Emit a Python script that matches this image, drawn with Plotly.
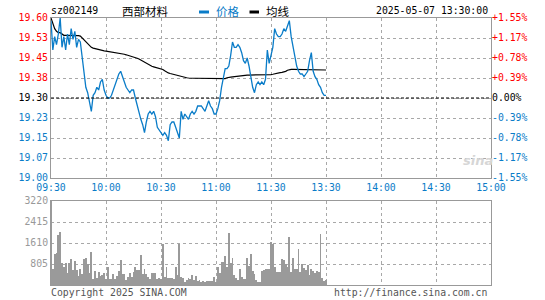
import plotly.graph_objects as go

# ---------------- data ----------------
symbol = "sz002149"
name = "西部材料"
stamp = "2025-05-07 13:30:00"
prev_close = 19.30

time_ticks = [0, 30, 60, 90, 120, 150, 180, 210, 240]
time_labels = ["09:30", "10:00", "10:30", "11:00", "11:30", "13:30", "14:00", "14:30", "15:00"]

price_ticks = [19.00, 19.075, 19.15, 19.225, 19.30, 19.375, 19.45, 19.525, 19.60]
price_labels = ["19.00", "19.07", "19.15", "19.23", "19.30", "19.38", "19.45", "19.53", "19.60"]
pct_labels = ["-1.55%", "-1.17%", "-0.78%", "-0.39%", "0.00%", "+0.39%", "+0.78%", "+1.17%", "+1.55%"]

vol_ticks = [805, 1610, 2415, 3220]
vol_labels = ["805", "1610", "2415", "3220"]

price = [
    19.59, 19.48, 19.53, 19.50, 19.54, 19.60, 19.49, 19.53, 19.48, 19.54,
    19.50, 19.56, 19.52, 19.55, 19.49, 19.52, 19.51, 19.45, 19.39, 19.34,
    19.32, 19.29, 19.25, 19.31, 19.32, 19.34, 19.33, 19.36, 19.37, 19.33,
    19.31, 19.30, 19.30, 19.31, 19.33, 19.35, 19.37, 19.39, 19.40, 19.38,
    19.36, 19.34, 19.33, 19.32, 19.33, 19.33, 19.30, 19.27, 19.25, 19.22,
    19.20, 19.17, 19.21, 19.24, 19.25, 19.24, 19.25, 19.23, 19.19, 19.18,
    19.17, 19.16, 19.17, 19.16, 19.14, 19.20, 19.21, 19.21, 19.19, 19.17,
    19.15, 19.25, 19.22, 19.24, 19.23, 19.22, 19.24, 19.25, 19.24, 19.25,
    19.27, 19.27, 19.27, 19.26, 19.25, 19.27, 19.29, 19.27, 19.26, 19.24,
    19.24, 19.26, 19.29, 19.34, 19.37, 19.41, 19.41, 19.42, 19.46, 19.51,
    19.49, 19.49, 19.50, 19.49, 19.47, 19.44, 19.43, 19.45, 19.42, 19.38,
    19.34, 19.32, 19.35, 19.36, 19.35, 19.36, 19.35, 19.37, 19.48, 19.43,
    19.46, 19.49, 19.56, 19.54, 19.53, 19.53, 19.54, 19.56, 19.55, 19.57,
    19.59, 19.53, 19.49, 19.46, 19.42, 19.40, 19.39, 19.39, 19.38, 19.39,
    19.40, 19.44, 19.47, 19.40, 19.38, 19.37, 19.35, 19.34, 19.32, 19.31,
    19.31,
]

avg_price = [
    19.600, 19.575, 19.560, 19.550, 19.545, 19.545, 19.540, 19.535, 19.535, 19.535,
    19.535, 19.535, 19.535, 19.535, 19.535, 19.534, 19.532, 19.525, 19.518, 19.510,
    19.503, 19.495, 19.490, 19.487, 19.485, 19.484, 19.482, 19.480, 19.479, 19.477,
    19.476, 19.475, 19.473, 19.472, 19.471, 19.470, 19.469, 19.468, 19.467, 19.466,
    19.464, 19.462, 19.460, 19.459, 19.457, 19.454, 19.451, 19.449, 19.446, 19.442,
    19.438, 19.433, 19.428, 19.424, 19.422, 19.419, 19.417, 19.415, 19.414, 19.413,
    19.410, 19.407, 19.402, 19.397, 19.394, 19.392, 19.390, 19.388, 19.386, 19.384,
    19.383, 19.381, 19.379, 19.378, 19.376, 19.375, 19.374, 19.374, 19.374, 19.374,
    19.374, 19.374, 19.374, 19.374, 19.374, 19.374, 19.374, 19.374, 19.374, 19.374,
    19.374, 19.374, 19.374, 19.373, 19.372, 19.373, 19.376, 19.378, 19.378, 19.379,
    19.380, 19.382, 19.383, 19.384, 19.385, 19.386, 19.386, 19.386, 19.386, 19.386,
    19.386, 19.386, 19.386, 19.386, 19.386, 19.386, 19.386, 19.386, 19.386, 19.387,
    19.388, 19.389, 19.391, 19.393, 19.394, 19.395, 19.396, 19.397, 19.400, 19.404,
    19.407, 19.407, 19.407, 19.407, 19.407, 19.407, 19.407, 19.407, 19.407, 19.407,
    19.407, 19.407, 19.407, 19.407, 19.407, 19.407, 19.406, 19.405, 19.405, 19.405,
    19.405,
]

volume = [
    3220, 600, 1176, 1214, 1904, 2032, 856, 703, 856, 447,
    856, 984, 575, 920, 575, 345, 626, 409, 1010, 1048,
    792, 447, 1265, 243, 537, 281, 498, 345, 370, 473,
    217, 703, 217, 243, 409, 217, 345, 537, 958, 409,
    409, 192, 320, 473, 320, 498, 677, 575, 575, 1137,
    409, 600, 409, 307, 217, 447, 473, 473, 217, 256,
    217, 1559, 320, 703, 256, 281, 281, 217, 703, 370,
    1559, 320, 256, 128, 192, 281, 217, 370, 192, 345,
    153, 179, 128, 153, 128, 166, 166, 153, 153, 320,
    128, 677, 473, 895, 895, 1112, 677, 2006, 856, 1048,
    383, 256, 192, 626, 320, 217, 243, 1048, 728, 1176,
    537, 409, 192, 128, 128, 537, 575, 600, 600, 626,
    1661, 1559, 677, 511, 498, 498, 1010, 958, 792, 703,
    1853, 498, 1022, 600, 626, 1367, 498, 792, 665, 575,
    754, 383, 626, 537, 473, 537, 498, 1943, 256, 153,
    192,
]

minutes = list(range(len(price)))

# ---------------- style ----------------
W, H = 545, 300
BLUE = "#0a7cc8"
RED = "#ff0000"
GRID = "#a8a8a8"
BORDER = "#999999"
MONO = "DejaVu Sans Mono"
CJK = "Noto Sans CJK SC"
FS = 9.8


def px(x):
    return x / W


def py(y):
    return 1 - y / H


def colored(labels):
    out = []
    for i, t in enumerate(labels):
        c = BLUE if i < 4 else ("#000000" if i == 4 else RED)
        out.append(f'<span style="color:{c}">{t}</span>')
    return out


xdom = [px(51), px(491)]

fig = go.Figure()
fig.add_trace(go.Bar(x=minutes, y=volume, xaxis="x2", yaxis="y3",
                     marker=dict(color="#9a9a9a", line=dict(width=0)),
                     width=0.5, hoverinfo="skip"))
fig.add_trace(go.Scatter(x=minutes, y=avg_price, mode="lines",
                         line=dict(color="#000000", width=1.2), hoverinfo="skip"))
fig.add_trace(go.Scatter(x=minutes, y=price, mode="lines",
                         line=dict(color=BLUE, width=1.3), hoverinfo="skip"))
fig.add_trace(go.Scatter(x=minutes, y=price, yaxis="y2", mode="lines",
                         line=dict(width=0), opacity=0, hoverinfo="skip"))

common_x = dict(domain=xdom, range=[0, 240], tickvals=time_ticks, showgrid=True,
                gridcolor=GRID, griddash="dot", gridwidth=1, showline=True, mirror=True,
                linecolor=BORDER, linewidth=1, zeroline=False, ticks="", fixedrange=True,
                automargin=False)

fig.update_layout(
    width=W, height=H, autosize=False,
    margin=dict(l=0, r=0, t=0, b=0, pad=0),
    paper_bgcolor="#ffffff", plot_bgcolor="#ffffff",
    showlegend=False, bargap=0,
    font=dict(family=MONO, size=FS, color="#000000"),
    xaxis=dict(**common_x, anchor="y", ticktext=time_labels,
               tickfont=dict(family=MONO, size=FS, color=BLUE)),
    yaxis=dict(domain=[py(178), py(18)], range=[19.0, 19.6], tickvals=price_ticks,
               ticktext=colored(price_labels), showgrid=True, gridcolor=GRID,
               griddash="dot", showline=True, mirror=True, linecolor=BORDER,
               zeroline=False, ticks="", tickfont=dict(family=MONO, size=FS),
               automargin=False, fixedrange=True),
    yaxis2=dict(overlaying="y", side="right", anchor="x", range=[19.0, 19.6],
                tickvals=price_ticks, ticktext=colored(pct_labels), showgrid=False,
                zeroline=False, ticks="", tickfont=dict(family=MONO, size=FS),
                automargin=False, fixedrange=True),
    xaxis2=dict(**common_x, anchor="y3", showticklabels=False),
    yaxis3=dict(domain=[py(285), py(201)], range=[0, 3220], tickvals=vol_ticks,
                ticktext=vol_labels, showgrid=True, gridcolor=GRID, griddash="dot",
                showline=True, mirror=True, linecolor=BORDER, zeroline=False,
                ticks="", tickfont=dict(family=MONO, size=FS, color="#999999"),
                automargin=False, fixedrange=True),
)

# previous close reference line
fig.add_shape(type="line", xref="x", yref="y", x0=0, x1=240,
              y0=prev_close, y1=prev_close, layer="above",
              line=dict(color="#000000", width=1, dash="3px,2px"))

# header
fig.add_annotation(x=px(49), y=py(11), xref="paper", yref="paper", text=symbol,
                   showarrow=False, xanchor="left", yanchor="middle",
                   font=dict(family=MONO, size=FS, color="#000000"))
fig.add_annotation(x=px(120), y=py(11), xref="paper", yref="paper", text=name,
                   showarrow=False, xanchor="left", yanchor="middle",
                   font=dict(family=CJK, size=11.5, color="#000000"))
fig.add_shape(type="rect", xref="paper", yref="paper", x0=px(199), x1=px(209),
              y0=py(13.5), y1=py(10.5), fillcolor=BLUE, line=dict(width=0))
fig.add_annotation(x=px(214), y=py(11), xref="paper", yref="paper", text="价格",
                   showarrow=False, xanchor="left", yanchor="middle",
                   font=dict(family=CJK, size=11.5, color=BLUE))
fig.add_shape(type="rect", xref="paper", yref="paper", x0=px(249.5), x1=px(259),
              y0=py(13.5), y1=py(10.5), fillcolor="#000000", line=dict(width=0))
fig.add_annotation(x=px(264), y=py(11), xref="paper", yref="paper", text="均线",
                   showarrow=False, xanchor="left", yanchor="middle",
                   font=dict(family=CJK, size=11.5, color="#000000"))
fig.add_annotation(x=px(490), y=py(11), xref="paper", yref="paper", text=stamp,
                   showarrow=False, xanchor="right", yanchor="middle",
                   font=dict(family=MONO, size=FS, color="#000000"))

# watermark
fig.add_annotation(x=px(478), y=py(160), xref="paper", yref="paper", text="<b><i>sina</i></b>",
                   showarrow=False, xanchor="center", yanchor="middle",
                   font=dict(family="DejaVu Sans", size=13, color="#d6d6d6"))

# footer
fig.add_annotation(x=px(49), y=py(292.5), xref="paper", yref="paper",
                   text="Copyright 2025 SINA.COM", showarrow=False,
                   xanchor="left", yanchor="middle",
                   font=dict(family=MONO, size=FS, color="#555555"))
fig.add_annotation(x=px(489), y=py(292.5), xref="paper", yref="paper",
                   text="http://finance.sina.com.cn", showarrow=False,
                   xanchor="right", yanchor="middle",
                   font=dict(family=MONO, size=FS, color="#555555"))

fig.write_html("out.html", config={"displayModeBar": False, "responsive": False},
               post_script="document.body.style.margin='0px';document.body.style.overflow='hidden';")
